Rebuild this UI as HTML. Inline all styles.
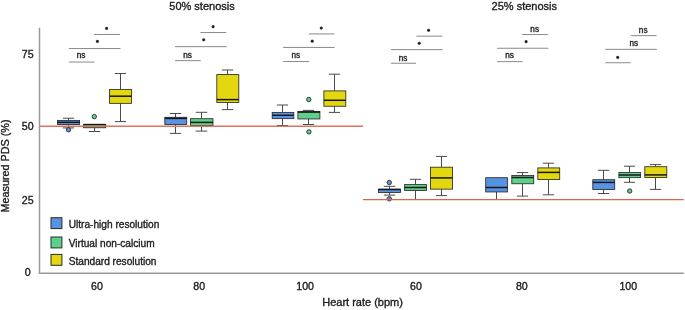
<!DOCTYPE html>
<html><head><meta charset="utf-8"><style>
html,body{margin:0;padding:0;background:#fff;}
body{width:685px;height:310px;overflow:hidden;}
svg{display:block;will-change:transform;}
text{font-family:"Liberation Sans",sans-serif;fill:#1a1a1a;stroke:#222;stroke-width:0.35px;}
</style></head><body>
<svg width="685" height="310" viewBox="0 0 685 310">
<g>
<rect width="685" height="310" fill="#fff"/>
<line x1="39.5" y1="27.7" x2="39.5" y2="273.3" stroke="#9a9a9a" stroke-width="1.5"/>
<line x1="38.8" y1="273.3" x2="683.8" y2="273.3" stroke="#9a9a9a" stroke-width="1.4"/>
<line x1="68.50" y1="118.20" x2="68.50" y2="120.10" stroke="#4a4a4a" stroke-width="1"/>
<line x1="62.83" y1="118.20" x2="74.17" y2="118.20" stroke="#4a4a4a" stroke-width="1"/>
<line x1="68.50" y1="124.50" x2="68.50" y2="127.90" stroke="#4a4a4a" stroke-width="1"/>
<line x1="62.83" y1="127.90" x2="74.17" y2="127.90" stroke="#4a4a4a" stroke-width="1"/>
<rect x="57.50" y="120.40" width="22.10" height="4.05" fill="#5893e3" stroke="#2a2a2a" stroke-width="0.85"/>
<line x1="57.50" y1="122.30" x2="79.60" y2="122.30" stroke="#151515" stroke-width="1.5"/>
<circle cx="68.50" cy="129.80" r="2.2" fill="#5893e3" stroke="#2a2a2a" stroke-width="0.9"/>
<line x1="94.50" y1="127.80" x2="94.50" y2="131.50" stroke="#4a4a4a" stroke-width="1"/>
<line x1="88.83" y1="131.50" x2="100.17" y2="131.50" stroke="#4a4a4a" stroke-width="1"/>
<rect x="83.60" y="124.40" width="22.10" height="3.35" fill="#5dd08b" stroke="#2a2a2a" stroke-width="0.85"/>
<line x1="83.60" y1="124.60" x2="105.70" y2="124.60" stroke="#151515" stroke-width="1.5"/>
<circle cx="94.30" cy="116.60" r="2.2" fill="#5dd08b" stroke="#2a2a2a" stroke-width="0.9"/>
<line x1="120.50" y1="73.50" x2="120.50" y2="89.10" stroke="#4a4a4a" stroke-width="1"/>
<line x1="114.88" y1="73.50" x2="126.12" y2="73.50" stroke="#4a4a4a" stroke-width="1"/>
<line x1="120.50" y1="103.40" x2="120.50" y2="121.60" stroke="#4a4a4a" stroke-width="1"/>
<line x1="114.88" y1="121.60" x2="126.12" y2="121.60" stroke="#4a4a4a" stroke-width="1"/>
<rect x="109.60" y="89.40" width="21.90" height="13.95" fill="#e3d70f" stroke="#2a2a2a" stroke-width="0.85"/>
<line x1="109.60" y1="96.20" x2="131.50" y2="96.20" stroke="#151515" stroke-width="1.5"/>
<line x1="175.50" y1="113.50" x2="175.50" y2="117.00" stroke="#4a4a4a" stroke-width="1"/>
<line x1="169.88" y1="113.50" x2="181.12" y2="113.50" stroke="#4a4a4a" stroke-width="1"/>
<line x1="175.50" y1="124.50" x2="175.50" y2="133.40" stroke="#4a4a4a" stroke-width="1"/>
<line x1="169.88" y1="133.40" x2="181.12" y2="133.40" stroke="#4a4a4a" stroke-width="1"/>
<rect x="164.80" y="117.30" width="21.90" height="7.15" fill="#5893e3" stroke="#2a2a2a" stroke-width="0.85"/>
<line x1="164.80" y1="118.40" x2="186.70" y2="118.40" stroke="#151515" stroke-width="1.5"/>
<line x1="201.50" y1="112.30" x2="201.50" y2="118.40" stroke="#4a4a4a" stroke-width="1"/>
<line x1="195.72" y1="112.30" x2="207.28" y2="112.30" stroke="#4a4a4a" stroke-width="1"/>
<line x1="201.50" y1="125.60" x2="201.50" y2="131.10" stroke="#4a4a4a" stroke-width="1"/>
<line x1="195.72" y1="131.10" x2="207.28" y2="131.10" stroke="#4a4a4a" stroke-width="1"/>
<rect x="190.50" y="118.70" width="22.50" height="6.85" fill="#5dd08b" stroke="#2a2a2a" stroke-width="0.85"/>
<line x1="190.50" y1="122.40" x2="213.00" y2="122.40" stroke="#151515" stroke-width="1.5"/>
<line x1="227.50" y1="70.00" x2="227.50" y2="74.30" stroke="#4a4a4a" stroke-width="1"/>
<line x1="221.85" y1="70.00" x2="233.15" y2="70.00" stroke="#4a4a4a" stroke-width="1"/>
<line x1="227.50" y1="102.60" x2="227.50" y2="109.60" stroke="#4a4a4a" stroke-width="1"/>
<line x1="221.85" y1="109.60" x2="233.15" y2="109.60" stroke="#4a4a4a" stroke-width="1"/>
<rect x="216.80" y="74.60" width="22.00" height="27.95" fill="#e3d70f" stroke="#2a2a2a" stroke-width="0.85"/>
<line x1="216.80" y1="99.60" x2="238.80" y2="99.60" stroke="#151515" stroke-width="1.5"/>
<line x1="282.50" y1="105.00" x2="282.50" y2="112.10" stroke="#4a4a4a" stroke-width="1"/>
<line x1="276.95" y1="105.00" x2="288.05" y2="105.00" stroke="#4a4a4a" stroke-width="1"/>
<line x1="282.50" y1="118.70" x2="282.50" y2="125.50" stroke="#4a4a4a" stroke-width="1"/>
<line x1="276.95" y1="125.50" x2="288.05" y2="125.50" stroke="#4a4a4a" stroke-width="1"/>
<rect x="272.20" y="112.40" width="21.60" height="6.25" fill="#5893e3" stroke="#2a2a2a" stroke-width="0.85"/>
<line x1="272.20" y1="115.30" x2="293.80" y2="115.30" stroke="#151515" stroke-width="1.5"/>
<line x1="308.50" y1="110.40" x2="308.50" y2="111.10" stroke="#4a4a4a" stroke-width="1"/>
<line x1="302.85" y1="110.40" x2="314.15" y2="110.40" stroke="#4a4a4a" stroke-width="1"/>
<line x1="308.50" y1="119.00" x2="308.50" y2="124.50" stroke="#4a4a4a" stroke-width="1"/>
<line x1="302.85" y1="124.50" x2="314.15" y2="124.50" stroke="#4a4a4a" stroke-width="1"/>
<rect x="297.90" y="111.40" width="22.00" height="7.55" fill="#5dd08b" stroke="#2a2a2a" stroke-width="0.85"/>
<line x1="297.90" y1="112.10" x2="319.90" y2="112.10" stroke="#151515" stroke-width="1.5"/>
<circle cx="308.80" cy="99.50" r="2.2" fill="#5dd08b" stroke="#2a2a2a" stroke-width="0.9"/>
<circle cx="308.90" cy="131.90" r="2.2" fill="#5dd08b" stroke="#2a2a2a" stroke-width="0.9"/>
<line x1="334.50" y1="74.20" x2="334.50" y2="90.60" stroke="#4a4a4a" stroke-width="1"/>
<line x1="328.88" y1="74.20" x2="340.12" y2="74.20" stroke="#4a4a4a" stroke-width="1"/>
<line x1="334.50" y1="106.30" x2="334.50" y2="112.40" stroke="#4a4a4a" stroke-width="1"/>
<line x1="328.88" y1="112.40" x2="340.12" y2="112.40" stroke="#4a4a4a" stroke-width="1"/>
<rect x="323.90" y="90.90" width="21.90" height="15.35" fill="#e3d70f" stroke="#2a2a2a" stroke-width="0.85"/>
<line x1="323.90" y1="100.30" x2="345.80" y2="100.30" stroke="#151515" stroke-width="1.5"/>
<line x1="389.50" y1="186.30" x2="389.50" y2="188.90" stroke="#4a4a4a" stroke-width="1"/>
<line x1="383.82" y1="186.30" x2="395.18" y2="186.30" stroke="#4a4a4a" stroke-width="1"/>
<line x1="389.50" y1="192.50" x2="389.50" y2="195.10" stroke="#4a4a4a" stroke-width="1"/>
<line x1="383.82" y1="195.10" x2="395.18" y2="195.10" stroke="#4a4a4a" stroke-width="1"/>
<rect x="378.40" y="189.20" width="22.10" height="3.25" fill="#5893e3" stroke="#2a2a2a" stroke-width="0.85"/>
<line x1="378.40" y1="189.50" x2="400.50" y2="189.50" stroke="#151515" stroke-width="1.5"/>
<circle cx="389.30" cy="182.50" r="2.2" fill="#5893e3" stroke="#2a2a2a" stroke-width="0.9"/>
<circle cx="389.30" cy="198.80" r="2.2" fill="#5893e3" stroke="#2a2a2a" stroke-width="0.9"/>
<line x1="415.50" y1="179.30" x2="415.50" y2="184.30" stroke="#4a4a4a" stroke-width="1"/>
<line x1="409.88" y1="179.30" x2="421.12" y2="179.30" stroke="#4a4a4a" stroke-width="1"/>
<line x1="415.50" y1="190.60" x2="415.50" y2="199.50" stroke="#4a4a4a" stroke-width="1"/>
<line x1="409.88" y1="199.50" x2="421.12" y2="199.50" stroke="#4a4a4a" stroke-width="1"/>
<rect x="404.60" y="184.60" width="21.90" height="5.95" fill="#5dd08b" stroke="#2a2a2a" stroke-width="0.85"/>
<line x1="404.60" y1="187.50" x2="426.50" y2="187.50" stroke="#151515" stroke-width="1.5"/>
<line x1="441.50" y1="156.40" x2="441.50" y2="166.90" stroke="#4a4a4a" stroke-width="1"/>
<line x1="435.85" y1="156.40" x2="447.15" y2="156.40" stroke="#4a4a4a" stroke-width="1"/>
<line x1="441.50" y1="189.20" x2="441.50" y2="195.60" stroke="#4a4a4a" stroke-width="1"/>
<line x1="435.85" y1="195.60" x2="447.15" y2="195.60" stroke="#4a4a4a" stroke-width="1"/>
<rect x="430.50" y="167.20" width="22.00" height="21.95" fill="#e3d70f" stroke="#2a2a2a" stroke-width="0.85"/>
<line x1="430.50" y1="177.90" x2="452.50" y2="177.90" stroke="#151515" stroke-width="1.5"/>
<line x1="496.50" y1="192.00" x2="496.50" y2="199.50" stroke="#4a4a4a" stroke-width="1"/>
<line x1="490.93" y1="199.50" x2="502.07" y2="199.50" stroke="#4a4a4a" stroke-width="1"/>
<rect x="485.70" y="177.70" width="21.70" height="14.25" fill="#5893e3" stroke="#2a2a2a" stroke-width="0.85"/>
<line x1="485.70" y1="187.50" x2="507.40" y2="187.50" stroke="#151515" stroke-width="1.5"/>
<line x1="522.50" y1="172.60" x2="522.50" y2="175.20" stroke="#4a4a4a" stroke-width="1"/>
<line x1="516.88" y1="172.60" x2="528.12" y2="172.60" stroke="#4a4a4a" stroke-width="1"/>
<line x1="522.50" y1="183.80" x2="522.50" y2="196.10" stroke="#4a4a4a" stroke-width="1"/>
<line x1="516.88" y1="196.10" x2="528.12" y2="196.10" stroke="#4a4a4a" stroke-width="1"/>
<rect x="511.80" y="175.50" width="21.90" height="8.25" fill="#5dd08b" stroke="#2a2a2a" stroke-width="0.85"/>
<line x1="511.80" y1="177.50" x2="533.70" y2="177.50" stroke="#151515" stroke-width="1.5"/>
<line x1="548.50" y1="163.20" x2="548.50" y2="167.60" stroke="#4a4a4a" stroke-width="1"/>
<line x1="542.88" y1="163.20" x2="554.12" y2="163.20" stroke="#4a4a4a" stroke-width="1"/>
<line x1="548.50" y1="179.60" x2="548.50" y2="194.80" stroke="#4a4a4a" stroke-width="1"/>
<line x1="542.88" y1="194.80" x2="554.12" y2="194.80" stroke="#4a4a4a" stroke-width="1"/>
<rect x="537.80" y="167.90" width="21.90" height="11.65" fill="#e3d70f" stroke="#2a2a2a" stroke-width="0.85"/>
<line x1="537.80" y1="172.40" x2="559.70" y2="172.40" stroke="#151515" stroke-width="1.5"/>
<line x1="603.50" y1="170.30" x2="603.50" y2="179.40" stroke="#4a4a4a" stroke-width="1"/>
<line x1="597.88" y1="170.30" x2="609.12" y2="170.30" stroke="#4a4a4a" stroke-width="1"/>
<line x1="603.50" y1="189.60" x2="603.50" y2="193.50" stroke="#4a4a4a" stroke-width="1"/>
<line x1="597.88" y1="193.50" x2="609.12" y2="193.50" stroke="#4a4a4a" stroke-width="1"/>
<rect x="592.80" y="179.70" width="21.90" height="9.85" fill="#5893e3" stroke="#2a2a2a" stroke-width="0.85"/>
<line x1="592.80" y1="182.40" x2="614.70" y2="182.40" stroke="#151515" stroke-width="1.5"/>
<line x1="629.50" y1="166.20" x2="629.50" y2="172.20" stroke="#4a4a4a" stroke-width="1"/>
<line x1="623.95" y1="166.20" x2="635.05" y2="166.20" stroke="#4a4a4a" stroke-width="1"/>
<line x1="629.50" y1="177.70" x2="629.50" y2="182.30" stroke="#4a4a4a" stroke-width="1"/>
<line x1="623.95" y1="182.30" x2="635.05" y2="182.30" stroke="#4a4a4a" stroke-width="1"/>
<rect x="618.90" y="172.50" width="21.60" height="5.15" fill="#5dd08b" stroke="#2a2a2a" stroke-width="0.85"/>
<line x1="618.90" y1="175.00" x2="640.50" y2="175.00" stroke="#151515" stroke-width="1.5"/>
<circle cx="629.70" cy="191.00" r="2.2" fill="#5dd08b" stroke="#2a2a2a" stroke-width="0.9"/>
<line x1="655.50" y1="164.60" x2="655.50" y2="166.40" stroke="#4a4a4a" stroke-width="1"/>
<line x1="649.85" y1="164.60" x2="661.15" y2="164.60" stroke="#4a4a4a" stroke-width="1"/>
<line x1="655.50" y1="177.60" x2="655.50" y2="189.40" stroke="#4a4a4a" stroke-width="1"/>
<line x1="649.85" y1="189.40" x2="661.15" y2="189.40" stroke="#4a4a4a" stroke-width="1"/>
<rect x="644.80" y="166.70" width="22.00" height="10.85" fill="#e3d70f" stroke="#2a2a2a" stroke-width="0.85"/>
<line x1="644.80" y1="174.90" x2="666.80" y2="174.90" stroke="#151515" stroke-width="1.5"/>
<line x1="39.5" y1="126.3" x2="363" y2="126.3" stroke="#dc7560" stroke-width="1.4"/>
<line x1="363" y1="199.6" x2="683.8" y2="199.6" stroke="#d8674a" stroke-width="1.4"/>
<line x1="94.00" y1="34.45" x2="120.00" y2="34.45" stroke="#8a8a8a" stroke-width="1"/>
<circle cx="106.60" cy="28.40" r="1.35" fill="#1e1e1e" stroke="#1e1e1e" stroke-opacity="0.45" stroke-width="0.7"/>
<line x1="68.90" y1="48.55" x2="120.50" y2="48.55" stroke="#8a8a8a" stroke-width="1"/>
<circle cx="97.40" cy="41.40" r="1.35" fill="#1e1e1e" stroke="#1e1e1e" stroke-opacity="0.45" stroke-width="0.7"/>
<line x1="68.90" y1="62.05" x2="94.50" y2="62.05" stroke="#8a8a8a" stroke-width="1"/>
<text x="81.10" y="58.40" font-size="8.2" text-anchor="middle">ns</text>
<line x1="200.40" y1="32.55" x2="226.30" y2="32.55" stroke="#8a8a8a" stroke-width="1"/>
<circle cx="213.10" cy="26.70" r="1.35" fill="#1e1e1e" stroke="#1e1e1e" stroke-opacity="0.45" stroke-width="0.7"/>
<line x1="175.00" y1="46.65" x2="226.80" y2="46.65" stroke="#8a8a8a" stroke-width="1"/>
<circle cx="203.70" cy="39.80" r="1.35" fill="#1e1e1e" stroke="#1e1e1e" stroke-opacity="0.45" stroke-width="0.7"/>
<line x1="175.00" y1="60.65" x2="200.80" y2="60.65" stroke="#8a8a8a" stroke-width="1"/>
<text x="187.60" y="57.50" font-size="8.2" text-anchor="middle">ns</text>
<line x1="308.90" y1="33.95" x2="334.40" y2="33.95" stroke="#8a8a8a" stroke-width="1"/>
<circle cx="321.30" cy="28.10" r="1.35" fill="#1e1e1e" stroke="#1e1e1e" stroke-opacity="0.45" stroke-width="0.7"/>
<line x1="283.20" y1="47.45" x2="334.60" y2="47.45" stroke="#8a8a8a" stroke-width="1"/>
<circle cx="312.20" cy="41.20" r="1.35" fill="#1e1e1e" stroke="#1e1e1e" stroke-opacity="0.45" stroke-width="0.7"/>
<line x1="283.20" y1="61.55" x2="309.00" y2="61.55" stroke="#8a8a8a" stroke-width="1"/>
<text x="295.80" y="57.90" font-size="8.2" text-anchor="middle">ns</text>
<line x1="416.30" y1="36.15" x2="442.20" y2="36.15" stroke="#8a8a8a" stroke-width="1"/>
<circle cx="428.60" cy="30.30" r="1.35" fill="#1e1e1e" stroke="#1e1e1e" stroke-opacity="0.45" stroke-width="0.7"/>
<line x1="390.90" y1="49.65" x2="442.70" y2="49.65" stroke="#8a8a8a" stroke-width="1"/>
<circle cx="419.20" cy="43.30" r="1.35" fill="#1e1e1e" stroke="#1e1e1e" stroke-opacity="0.45" stroke-width="0.7"/>
<line x1="390.90" y1="63.25" x2="416.00" y2="63.25" stroke="#8a8a8a" stroke-width="1"/>
<text x="403.00" y="60.50" font-size="8.2" text-anchor="middle">ns</text>
<line x1="522.10" y1="34.55" x2="547.90" y2="34.55" stroke="#8a8a8a" stroke-width="1"/>
<text x="534.70" y="31.70" font-size="8.2" text-anchor="middle">ns</text>
<line x1="497.10" y1="48.25" x2="548.40" y2="48.25" stroke="#8a8a8a" stroke-width="1"/>
<circle cx="526.10" cy="41.70" r="1.35" fill="#1e1e1e" stroke="#1e1e1e" stroke-opacity="0.45" stroke-width="0.7"/>
<line x1="497.10" y1="61.65" x2="522.60" y2="61.65" stroke="#8a8a8a" stroke-width="1"/>
<text x="509.50" y="58.30" font-size="8.2" text-anchor="middle">ns</text>
<line x1="630.80" y1="35.65" x2="656.60" y2="35.65" stroke="#8a8a8a" stroke-width="1"/>
<text x="643.20" y="32.80" font-size="8.2" text-anchor="middle">ns</text>
<line x1="605.30" y1="49.35" x2="656.90" y2="49.35" stroke="#8a8a8a" stroke-width="1"/>
<text x="633.90" y="45.90" font-size="8.2" text-anchor="middle">ns</text>
<line x1="605.30" y1="62.75" x2="630.80" y2="62.75" stroke="#8a8a8a" stroke-width="1"/>
<circle cx="617.70" cy="57.40" r="1.35" fill="#1e1e1e" stroke="#1e1e1e" stroke-opacity="0.45" stroke-width="0.7"/>
<text x="202.00" y="9.60" font-size="11" text-anchor="middle">50% stenosis</text>
<text x="524.30" y="9.60" font-size="11" text-anchor="middle">25% stenosis</text>
<text x="27.70" y="57.90" font-size="10.6" text-anchor="middle">75</text>
<text x="27.70" y="129.80" font-size="10.6" text-anchor="middle">50</text>
<text x="27.70" y="203.60" font-size="10.6" text-anchor="middle">25</text>
<text x="27.70" y="275.80" font-size="10.6" text-anchor="middle">0</text>
<text x="97.00" y="290.00" font-size="10.6" text-anchor="middle">60</text>
<text x="199.20" y="290.00" font-size="10.6" text-anchor="middle">80</text>
<text x="305.10" y="290.00" font-size="10.6" text-anchor="middle">100</text>
<text x="416.00" y="290.00" font-size="10.6" text-anchor="middle">60</text>
<text x="521.80" y="290.00" font-size="10.6" text-anchor="middle">80</text>
<text x="628.30" y="290.00" font-size="10.6" text-anchor="middle">100</text>
<text x="362.60" y="306.30" font-size="11" text-anchor="middle">Heart rate (bpm)</text>
<text transform="translate(9.4,166.0) rotate(-90)" font-size="10.8" text-anchor="middle">Measured PDS (%)</text>
<rect x="51" y="217.70" width="10.9" height="10.9" fill="#5893e3" stroke="#2a2a2a" stroke-width="1"/>
<text x="68.70" y="227.80" font-size="10.15" text-anchor="start">Ultra-high resolution</text>
<rect x="51" y="237.00" width="10.9" height="10.9" fill="#5dd08b" stroke="#2a2a2a" stroke-width="1"/>
<text x="68.70" y="247.10" font-size="10.15" text-anchor="start">Virtual non-calcium</text>
<rect x="51" y="254.40" width="10.9" height="10.9" fill="#e3d70f" stroke="#2a2a2a" stroke-width="1"/>
<text x="68.70" y="264.50" font-size="10.15" text-anchor="start">Standard resolution</text>
</g>
</svg>
</body></html>
